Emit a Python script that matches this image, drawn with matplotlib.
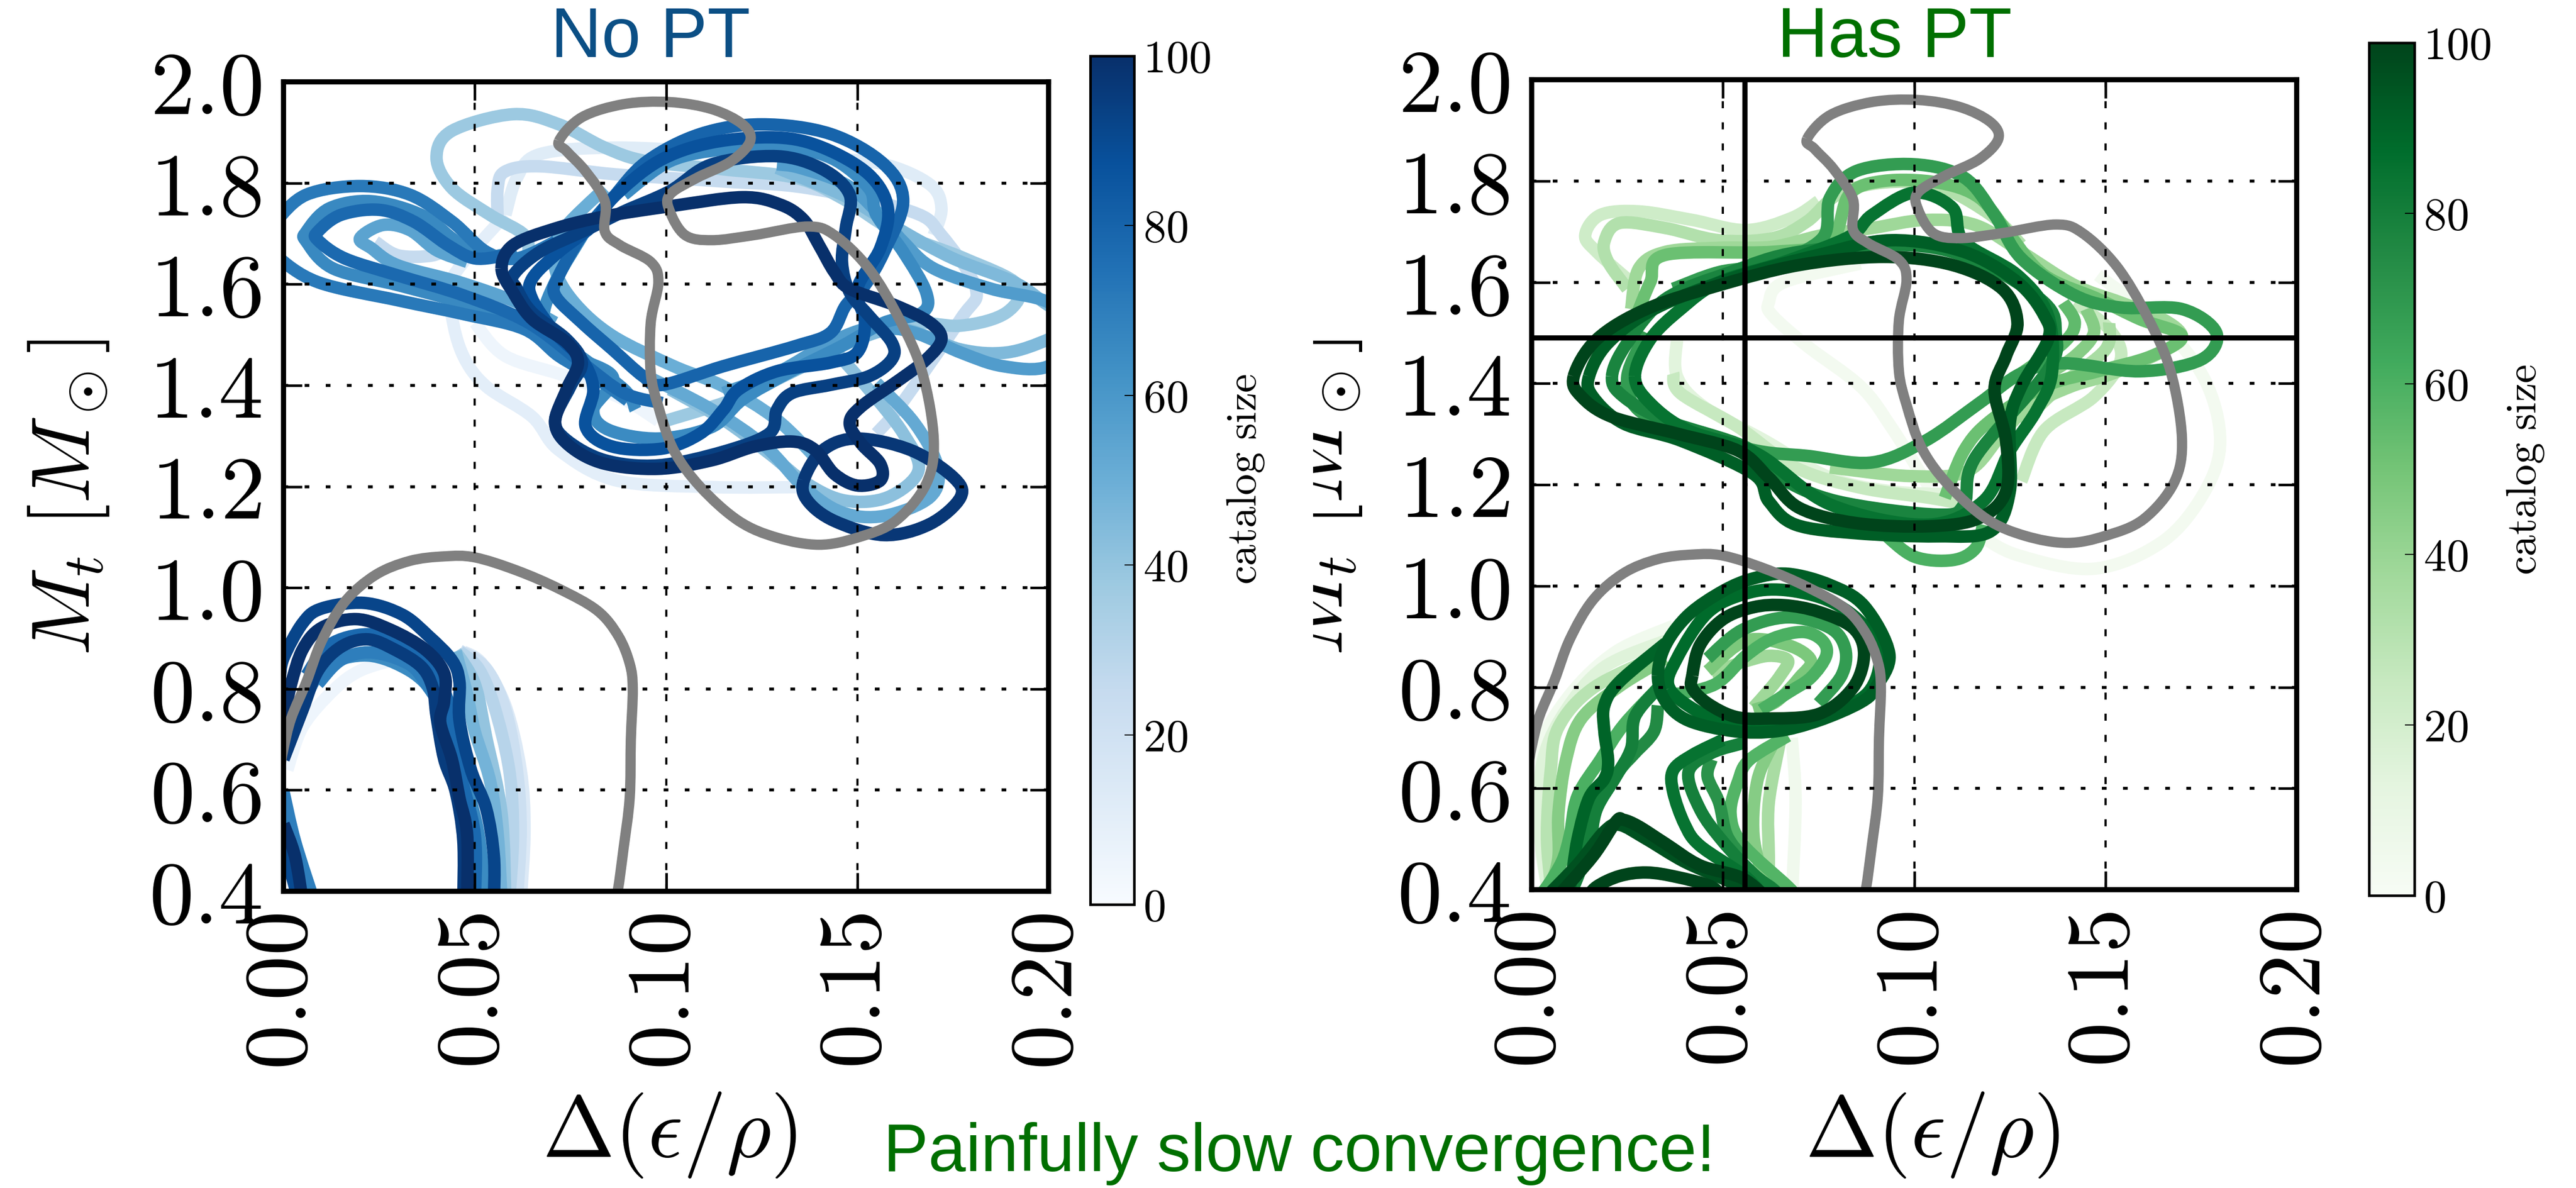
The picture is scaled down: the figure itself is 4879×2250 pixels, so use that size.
import matplotlib
matplotlib.use("Agg")
import matplotlib.pyplot as plt
import numpy as np
from matplotlib.cm import ScalarMappable
from matplotlib.colors import Normalize
from matplotlib.patches import PathPatch
from matplotlib.path import Path
from matplotlib.transforms import Bbox, TransformedBbox

plt.rcParams["mathtext.fontset"] = "cm"
plt.rcParams["font.family"] = ["Liberation Sans", "DejaVu Sans"]

x_ticks = [0.00, 0.05, 0.10, 0.15, 0.20]
x_tick_labels = ["$0.00$", "$0.05$", "$0.10$", "$0.15$", "$0.20$"]
y_ticks = [0.4, 0.6, 0.8, 1.0, 1.2, 1.4, 1.6, 1.8, 2.0]
y_tick_labels = ["$0.4$", "$0.6$", "$0.8$", "$1.0$", "$1.2$", "$1.4$", "$1.6$", "$1.8$", "$2.0$"]
cbar_ticks = [0, 20, 40, 60, 80, 100]
cbar_tick_labels = ["$0$", "$20$", "$40$", "$60$", "$80$", "$100$"]
pt_eos_x = 0.0557
pt_eos_y = 1.49

# grey reference contours, same in both panels
grey_top_x = [.072, .078, .089, .101, .112, .120, .122, .117, .108, .101, .101, .105, .112, .123, .137, .144, .153, .161, .167, .170, .168, .160, .150, .140, .129, .119, .109, .102, .098, .096, .096, .098, .096, .088, .084, .084, .079, .074]
grey_top_y = [1.883, 1.930, 1.956, 1.960, 1.946, 1.916, 1.883, 1.843, 1.810, 1.777, 1.744, 1.697, 1.687, 1.697, 1.714, 1.697, 1.631, 1.531, 1.425, 1.292, 1.205, 1.132, 1.099, 1.085, 1.099, 1.132, 1.199, 1.272, 1.358, 1.425, 1.524, 1.604, 1.644, 1.677, 1.704, 1.764, 1.823, 1.863]
grey_low_x = [-.001, .000, .002, .006, .010, .016, .024, .033, .042, .050, .061, .072, .082, .0875, .0905, .0913, .0908, .0905, .0889, .0874, .086]
grey_low_y = [.64, .682, .742, .814, .895, .972, 1.025, 1.053, 1.062, 1.060, 1.034, .998, .955, .905, .85, .80, .70, .585, .485, .402, .36]

# No PT, upper cluster
nt100_x = [.057, .060, .071, .084, .101, .120, .130, .136, .140, .144, .148, .160, .169, .172, .168, .161, .151, .148, .151, .156, .156, .150, .144, .139, .133, .123, .112, .098, .084, .075, .071, .074, .077, .074, .065, .060]
nt100_y = [1.631, 1.677, 1.710, 1.734, 1.754, 1.772, 1.757, 1.727, 1.677, 1.624, 1.591, 1.558, 1.524, 1.491, 1.451, 1.411, 1.358, 1.325, 1.285, 1.245, 1.212, 1.202, 1.225, 1.272, 1.289, 1.279, 1.252, 1.235, 1.245, 1.279, 1.325, 1.392, 1.445, 1.485, 1.531, 1.584]
nt94_x = [.101, .112, .129, .141, .148, .147, .146, .148, .153, .159, .159, .153, .143, .133, .129, .127, .115, .098, .084, .074, .071, .075, .078, .074, .065, .061, .060, .067, .079, .089]
nt94_y = [1.784, 1.837, 1.853, 1.827, 1.777, 1.711, 1.644, 1.584, 1.538, 1.485, 1.451, 1.418, 1.401, 1.385, 1.352, 1.305, 1.269, 1.242, 1.252, 1.292, 1.332, 1.398, 1.445, 1.491, 1.544, 1.591, 1.617, 1.664, 1.707, 1.744]
nt97_x = [.136, .141, .150, .164, .175, .177, .169, .157, .144, .137]
nt97_y = [1.212, 1.272, 1.295, 1.272, 1.219, 1.179, 1.126, 1.104, 1.132, 1.172]
nt80_x = [.072, .078, .086, .095, .109, .125, .143, .157, .162, .157, .152, .147, .143, .134, .115, .099, .094, .086, .078, .071]
nt80_y = [1.617, 1.697, 1.770, 1.843, 1.897, 1.916, 1.897, 1.837, 1.764, 1.664, 1.598, 1.558, 1.504, 1.478, 1.438, 1.401, 1.418, 1.471, 1.524, 1.578]
nt87_x = [.086, .098, .112, .129, .141, .153, .158, .156, .150, .152, .150, .143, .129, .119, .115, .109, .099, .086, .079, .081, .078, .071, .065, .065, .072, .081]
nt87_y = [1.770, 1.843, 1.880, 1.890, 1.870, 1.817, 1.750, 1.671, 1.591, 1.524, 1.465, 1.445, 1.428, 1.392, 1.352, 1.305, 1.275, 1.279, 1.318, 1.392, 1.451, 1.504, 1.571, 1.611, 1.664, 1.717]
nt65_x = [.089, .101, .115, .129, .143, .153, .155, .162, .168, .167, .157, .146, .132, .120, .112, .098, .085, .081, .086, .072, .068, .071, .079]
nt65_y = [1.777, 1.843, 1.867, 1.873, 1.850, 1.790, 1.737, 1.664, 1.584, 1.544, 1.524, 1.478, 1.425, 1.372, 1.318, 1.295, 1.312, 1.352, 1.418, 1.471, 1.531, 1.604, 1.707]
nt72_x = [.071, .061, .053, .044, .033, .020, .006, -.002, -.005, -.002, .009, .030, .047, .063, .072, .081, .090]
nt72_y = [1.684, 1.651, 1.664, 1.724, 1.777, 1.794, 1.777, 1.724, 1.690, 1.657, 1.604, 1.568, 1.541, 1.511, 1.458, 1.418, 1.370]
nt66_x = [.061, .051, .044, .036, .023, .012, .006, .006, .013, .030, .047, .063, .075, .089, .092]
nt66_y = [1.664, 1.654, 1.691, 1.737, 1.764, 1.750, 1.704, 1.684, 1.631, 1.598, 1.564, 1.531, 1.471, 1.392, 1.352]
nt78_x = [.058, .050, .043, .034, .025, .015, .009, .009, .016, .030, .047, .064, .078, .089, .099]
nt78_y = [1.657, 1.651, 1.677, 1.724, 1.747, 1.737, 1.704, 1.687, 1.651, 1.617, 1.578, 1.524, 1.445, 1.385, 1.365]
nt55_x = [.048, .040, .033, .026, .020, .023, .030, .046, .061, .071]
nt55_y = [1.644, 1.667, 1.707, 1.717, 1.691, 1.671, 1.637, 1.604, 1.564, 1.524]
nt25a_x = [.024, .030, .039, .044]
nt25a_y = [1.684, 1.657, 1.657, 1.677]
nt58_x = [.129, .135, .147, .155, .162, .170, .185, .200, .208, .200, .188, .177, .165, .154, .143, .129, .115]
nt58_y = [1.837, 1.830, 1.797, 1.744, 1.684, 1.631, 1.591, 1.564, 1.504, 1.438, 1.438, 1.465, 1.504, 1.514, 1.485, 1.425, 1.385]
nt45_x = [.129, .146, .155, .162, .175, .191, .200, .208, .200, .189, .177, .162, .150, .136, .122, .112]
nt45_y = [1.830, 1.777, 1.737, 1.704, 1.651, 1.604, 1.558, 1.524, 1.491, 1.465, 1.471, 1.511, 1.491, 1.438, 1.385, 1.338]
nt38_x = [.064, .063, .054, .044, .040, .044, .060, .072, .084, .095, .115, .134, .146, .160, .178, .192, .189, .177, .161, .143, .122, .100]
nt38_y = [1.657, 1.697, 1.737, 1.790, 1.850, 1.903, 1.936, 1.916, 1.870, 1.843, 1.827, 1.810, 1.770, 1.704, 1.651, 1.598, 1.544, 1.518, 1.524, 1.471, 1.385, 1.330]
nt52_x = [.095, .112, .126, .136, .146, .157, .169, .171, .165, .155]
nt52_y = [1.418, 1.352, 1.279, 1.199, 1.149, 1.142, 1.179, 1.239, 1.325, 1.405]
nt42_x = [.101, .115, .127, .137, .147, .158, .166, .162, .153, .143]
nt42_y = [1.392, 1.332, 1.265, 1.205, 1.172, 1.179, 1.232, 1.305, 1.392, 1.478]
nt50_x = [.084, .072, .071, .076, .086, .102, .115, .129, .140]
nt50_y = [1.790, 1.697, 1.631, 1.564, 1.498, 1.438, 1.398, 1.332, 1.250]
nt25_x = [.056, .056, .058, .067, .087, .115, .137, .164, .172, .181, .177, .161, .155]
nt25_y = [1.724, 1.790, 1.823, 1.833, 1.817, 1.803, 1.790, 1.744, 1.697, 1.591, 1.531, 1.358, 1.305]
nt12_x = [.058, .061, .067, .087, .115, .140, .157, .169, .172, .170]
nt12_y = [1.737, 1.810, 1.857, 1.870, 1.860, 1.850, 1.837, 1.797, 1.750, 1.697]
nt10_x = [.058, .044, .044, .047, .053, .065, .072, .087, .112, .136]
nt10_y = [1.737, 1.611, 1.538, 1.458, 1.398, 1.338, 1.272, 1.212, 1.199, 1.199]
nt5_x = [.050, .058, .074, .089, .098]
nt5_y = [1.524, 1.458, 1.418, 1.372, 1.330]

no_pt_loops = [(97, nt97_x, nt97_y), (100, nt100_x, nt100_y), (94, nt94_x, nt94_y), (87, nt87_x, nt87_y), (80, nt80_x, nt80_y)]
no_pt_open = [(5, nt5_x, nt5_y), (10, nt10_x, nt10_y), (12, nt12_x, nt12_y), (25, nt25_x, nt25_y), (25, nt25a_x, nt25a_y), (38, nt38_x, nt38_y), (42, nt42_x, nt42_y), (45, nt45_x, nt45_y), (50, nt50_x, nt50_y), (52, nt52_x, nt52_y), (55, nt55_x, nt55_y), (58, nt58_x, nt58_y), (65, nt65_x, nt65_y), (66, nt66_x, nt66_y), (72, nt72_x, nt72_y), (78, nt78_x, nt78_y)]

# No PT, lower cluster
nl100_x = [.000, .002, .005, .010, .019, .028, .037, .042, .042, .041, .044, .046, .048, .048]
nl100_y = [.742, .810, .878, .921, .938, .917, .878, .831, .776, .733, .661, .584, .512, .38]
nl92_x = [-.001, .000, .005, .010, .021, .031, .038, .044, .046, .046, .049, .053, .055, .055]
nl92_y = [.82, .861, .930, .959, .970, .947, .904, .857, .814, .738, .640, .563, .469, .38]
nl95_x = [.000, .005, .009, .015, .022, .029, .036, .039, .040, .042, .045, .047, .047]
nl95_y = [.661, .759, .836, .883, .898, .878, .844, .802, .746, .661, .597, .50, .38]
nl78_x = [.006, .012, .022, .031, .037, .041, .044, .046, .050, .050]
nl78_y = [.827, .887, .908, .887, .853, .814, .746, .640, .512, .38]
nl70_x = [.009, .015, .023, .033, .038, .041]
nl70_y = [.810, .857, .872, .848, .802, .767]
nl65_x = [.005, .011, .022, .033, .040, .044, .048, .051, .053]
nl65_y = [.772, .844, .866, .836, .785, .725, .605, .512, .38]
nl48_x = [.045, .048, .050, .054, .056, .057]
nl48_y = [.874, .789, .716, .618, .512, .38]
nl40_x = [.045, .050, .053, .057, .058]
nl40_y = [.874, .810, .704, .554, .38]
nl30_x = [.046, .051, .055, .059, .060, .059]
nl30_y = [.874, .840, .768, .640, .512, .38]
nl22_x = [.046, .053, .058, .061, .062, .061]
nl22_y = [.876, .840, .759, .640, .520, .38]
nl14_x = [.047, .052, .058, .062, .063, .062]
nl14_y = [.874, .849, .767, .640, .520, .38]
nl5_x = [.001, .005, .013, .020, .030]
nl5_y = [.640, .725, .797, .836, .860]
nc100_x = [.000, .003, .005]
nc100_y = [.533, .469, .38]
nc70_x = [.000, .003, .008]
nc70_y = [.597, .499, .38]
nc90_x = [.000, .004]
nc90_y = [.490, .38]

no_pt_low = [(5, nl5_x, nl5_y), (14, nl14_x, nl14_y), (22, nl22_x, nl22_y), (30, nl30_x, nl30_y), (40, nl40_x, nl40_y), (48, nl48_x, nl48_y), (65, nl65_x, nl65_y), (70, nl70_x, nl70_y), (70, nc70_x, nc70_y), (78, nl78_x, nl78_y), (90, nc90_x, nc90_y), (92, nl92_x, nl92_y), (95, nl95_x, nl95_y), (100, nl100_x, nl100_y), (100, nc100_x, nc100_y)]

# Has PT, upper cluster
ht100_x = [.011, .017, .030, .049, .070, .092, .110, .123, .127, .124, .121, .124, .124, .117, .104, .085, .070, .062, .054, .038, .021, .013]
ht100_y = [1.414, 1.487, 1.547, 1.594, 1.634, 1.650, 1.634, 1.587, 1.520, 1.454, 1.387, 1.287, 1.187, 1.134, 1.118, 1.124, 1.154, 1.214, 1.267, 1.301, 1.334, 1.374]
ht92_x = [.015, .020, .032, .052, .075, .094, .113, .127, .134, .135, .128, .125, .125, .120, .106, .085, .069, .062, .058, .039, .024, .016]
ht92_y = [1.414, 1.480, 1.547, 1.607, 1.654, 1.683, 1.660, 1.600, 1.534, 1.487, 1.394, 1.321, 1.187, 1.108, 1.098, 1.104, 1.121, 1.167, 1.221, 1.287, 1.321, 1.374]
ht85_x = [.027, .031, .039, .049, .066, .083, .089, .100, .110, .113, .127, .135, .136, .132, .125, .118, .103, .078, .059, .041, .031]
ht85_y = [1.414, 1.487, 1.547, 1.600, 1.640, 1.690, 1.733, 1.777, 1.747, 1.680, 1.614, 1.534, 1.420, 1.347, 1.267, 1.167, 1.121, 1.161, 1.261, 1.307, 1.361]
ht78_x = [.021, .025, .035, .052, .070, .099, .117, .134, .137, .135, .116, .113, .106, .080, .065, .056, .035, .024]
ht78_y = [1.414, 1.480, 1.567, 1.620, 1.660, 1.673, 1.640, 1.560, 1.500, 1.427, 1.254, 1.161, 1.141, 1.167, 1.214, 1.274, 1.327, 1.374]
ht68_x = [.037, .049, .063, .076, .078, .085, .100, .113, .121, .128, .142, .154, .170, .179, .175, .159, .139, .128, .117, .103, .089, .072, .059, .042, .028, .025, .030]
ht68_y = [1.587, 1.620, 1.637, 1.687, 1.767, 1.820, 1.833, 1.807, 1.733, 1.647, 1.574, 1.550, 1.547, 1.500, 1.447, 1.424, 1.440, 1.420, 1.361, 1.287, 1.244, 1.257, 1.267, 1.301, 1.347, 1.414, 1.500]
ht60_x = [.092, .100, .110, .116, .118]
ht60_y = [1.104, 1.058, 1.051, 1.074, 1.121]
ht52_x = [.027, .031, .035, .063, .078, .083, .092, .106, .117, .125, .134, .148, .159, .170, .162, .148, .134, .120, .113, .108]
ht52_y = [1.527, 1.600, 1.654, 1.660, 1.680, 1.773, 1.800, 1.797, 1.767, 1.693, 1.614, 1.567, 1.527, 1.494, 1.454, 1.424, 1.394, 1.327, 1.267, 1.174]
ht38_x = [.026, .028, .035, .049, .063, .076, .089, .103, .116, .128, .142, .154, .165, .170, .166, .152, .141, .130, .123, .114, .099, .078]
ht38_y = [1.547, 1.627, 1.660, 1.668, 1.670, 1.693, 1.707, 1.723, 1.713, 1.660, 1.594, 1.560, 1.527, 1.494, 1.467, 1.420, 1.394, 1.354, 1.301, 1.227, 1.217, 1.234]
ht32_x = [.025, .020, .019, .023, .035, .049, .063, .072, .080, .092, .106, .120, .128]
ht32_y = [1.587, 1.640, 1.680, 1.717, 1.707, 1.683, 1.687, 1.720, 1.773, 1.797, 1.790, 1.733, 1.674]
ht22_x = [.026, .017, .014, .018, .028, .042, .056, .068, .075]
ht22_y = [1.600, 1.660, 1.693, 1.733, 1.740, 1.723, 1.703, 1.727, 1.760]
ht25_x = [.037, .039, .054, .069, .086, .104, .114]
ht25_y = [1.420, 1.380, 1.314, 1.234, 1.194, 1.174, 1.160]
ht25b_x = [.128, .134, .147, .154, .151, .142]
ht25b_y = [1.207, 1.307, 1.374, 1.447, 1.507, 1.560]
ht14_x = [.038, .038, .045, .061, .078, .094, .110]
ht14_y = [1.487, 1.414, 1.354, 1.287, 1.214, 1.187, 1.181]
ht3a_x = [.086, .066, .062, .063, .072, .086, .094, .104]
ht3a_y = [1.637, 1.600, 1.560, 1.534, 1.474, 1.394, 1.314, 1.194]
ht3b_x = [.148, .165, .176, .180, .176, .165, .147, .127, .117]
ht3b_y = [1.614, 1.514, 1.407, 1.287, 1.187, 1.088, 1.034, 1.061, 1.101]
ht55_x = [.139, .142, .139, .128]
ht55_y = [1.560, 1.520, 1.480, 1.420]
ht45_x = [.145, .147, .142, .134]
ht45_y = [1.547, 1.500, 1.454, 1.414]
ht35_x = [.151, .150, .139, .128]
ht35_y = [1.520, 1.467, 1.400, 1.321]

has_pt_loops = [(78, ht78_x, ht78_y), (85, ht85_x, ht85_y), (92, ht92_x, ht92_y), (100, ht100_x, ht100_y)]
has_pt_open = [(3, ht3a_x, ht3a_y), (3, ht3b_x, ht3b_y), (14, ht14_x, ht14_y), (22, ht22_x, ht22_y), (25, ht25_x, ht25_y), (25, ht25b_x, ht25b_y), (32, ht32_x, ht32_y), (35, ht35_x, ht35_y), (38, ht38_x, ht38_y), (45, ht45_x, ht45_y), (52, ht52_x, ht52_y), (55, ht55_x, ht55_y), (60, ht60_x, ht60_y), (68, ht68_x, ht68_y)]

# Has PT, lower cluster
hl100_x = [.042, .044, .050, .058, .066, .075, .084, .0869, .084, .075, .061, .053, .046, .042]
hl100_y = [.823, .883, .934, .958, .962, .949, .917, .866, .799, .747, .738, .742, .768, .798]
hl92_x = [.033, .035, .041, .050, .058, .067, .078, .087, .0935, .090, .086, .075, .064, .053, .041, .035]
hl92_y = [.823, .883, .943, .990, 1.015, 1.024, 1.002, .960, .866, .80, .77, .734, .713, .713, .734, .772]
hl88_x = [.036, .038, .046, .056, .066, .078, .087, .091, .088, .078, .067, .055, .045]
hl88_y = [.798, .857, .947, .985, .992, .970, .921, .86, .79, .747, .721, .718, .745]
hf60_x = [.037, .048, .056, .063, .071, .076, .077, .073, .067, .060]
hf60_y = [.785, .806, .862, .896, .909, .892, .862, .819, .789, .755]
hf68_x = [.046, .055, .067, .078, .082, .081, .075]
hf68_y = [.857, .913, .938, .917, .875, .823, .768]
hf48_x = [.046, .056, .067, .073, .070, .064, .058]
hf48_y = [.832, .892, .883, .853, .819, .772, .755]
hf38_x = [.047, .055, .062, .067, .065, .062, .058]
hf38_y = [.828, .849, .862, .853, .823, .794, .760]
hb90_x = [.035, .023, .019, .019, .020, .019, .015, .012, .010, .008]
hb90_y = [.887, .811, .764, .713, .653, .619, .581, .500, .406, .38]
hb80_x = [.033, .027, .026, .022, .017, .015, .011, .009]
hb80_y = [.798, .742, .679, .623, .559, .487, .406, .38]
hb75_x = [.033, .032, .027, .023, .016, .013, .009, .007]
hb75_y = [.764, .713, .670, .636, .559, .487, .406, .38]
hb60_x = [.033, .024, .018, .012, .010, .008, .004, .001]
hb60_y = [.798, .725, .657, .585, .508, .457, .406, .38]
hb45_x = [.035, .023, .013, .009, .007, .007, .005, .004]
hb45_y = [.857, .802, .738, .657, .551, .465, .406, .38]
hb30_x = [.033, .016, .007, .005, .004, .005, .005]
hb30_y = [.862, .798, .721, .636, .508, .406, .38]
hb15_x = [.035, .019, .009, .003, .002, .004, .004]
hb15_y = [.892, .840, .755, .657, .529, .406, .38]
hb4_x = [.037, .022, .010, .002, .001, .004, .004]
hb4_y = [.921, .870, .785, .679, .551, .406, .38]
hd100_x = [.006, .016, .022, .024, .028, .035, .044, .055, .062]
hd100_y = [.38, .466, .534, .538, .525, .491, .448, .423, .38]
hd96_x = [.003, .012, .019, .023, .030, .040, .052, .060]
hd96_y = [.38, .450, .515, .528, .500, .455, .415, .38]
ha100_x = [.014, .017, .023, .030, .038, .047, .050]
ha100_y = [.38, .406, .427, .434, .425, .406, .38]
hm85_x = [.050, .042, .037, .037, .040, .044, .055, .059]
hm85_y = [.696, .666, .636, .593, .529, .487, .431, .402]
hm80_x = [.056, .047, .041, .044, .050, .058, .063, .066]
hm80_y = [.691, .670, .632, .559, .495, .431, .402, .38]
hm72_x = [.047, .046, .049, .051, .055]
hm72_y = [.657, .623, .572, .508, .465]
hm58_x = [.067, .057, .054, .052, .055, .067, .070]
hm58_y = [.704, .657, .615, .551, .491, .406, .38]
hm45_x = [.063, .059, .058, .061, .061]
hm45_y = [.687, .615, .508, .406, .38]
hm35_x = [.065, .062, .062, .062]
hm35_y = [.696, .572, .465, .38]
hm5_x = [.068, .069, .068]
hm5_y = [.700, .572, .38]

has_pt_low_loops = [(88, hl88_x, hl88_y), (92, hl92_x, hl92_y), (100, hl100_x, hl100_y)]
has_pt_low_open = [(4, hb4_x, hb4_y), (5, hm5_x, hm5_y), (15, hb15_x, hb15_y), (30, hb30_x, hb30_y), (35, hm35_x, hm35_y), (38, hf38_x, hf38_y), (45, hb45_x, hb45_y), (45, hm45_x, hm45_y), (48, hf48_x, hf48_y), (58, hm58_x, hm58_y), (60, hb60_x, hb60_y), (60, hf60_x, hf60_y), (68, hf68_x, hf68_y), (72, hm72_x, hm72_y), (75, hb75_x, hb75_y), (80, hb80_x, hb80_y), (80, hm80_x, hm80_y), (85, hm85_x, hm85_y), (90, hb90_x, hb90_y), (96, hd96_x, hd96_y), (100, hd100_x, hd100_y), (100, ha100_x, ha100_y)]

W, H = 4879, 2250
LW = 17


def box(x0, y0, x1, y1):
    # pixel box of the reference, y from the top
    return [x0 / W, 1 - y1 / H, (x1 - x0) / W, (y1 - y0) / H]


def smooth_patch(x, y, closed=False, **kw):
    # draws a smooth stroke through the read points
    pts = np.column_stack([x, y])
    if closed:
        p = np.vstack([pts[-1], pts, pts[0], pts[1]])
    else:
        p = np.vstack([pts[0], pts, pts[-1]])
    verts = [p[1]]
    codes = [Path.MOVETO]
    for i in range(1, len(p) - 2):
        verts += [p[i] + (p[i + 1] - p[i - 1]) / 6, p[i + 1] - (p[i + 2] - p[i]) / 6, p[i + 1]]
        codes += [Path.CURVE4] * 3
    return PathPatch(Path(verts, codes), fill=False, joinstyle="round", capstyle="butt", **kw)


def draw_panel(ax, cmap, loops, opens):
    curves = [(n, x, y, True) for n, x, y in loops] + [(n, x, y, False) for n, x, y in opens]
    for n, x, y, closed in sorted(curves, key=lambda c: c[0]):
        ax.add_patch(smooth_patch(x, y, closed, edgecolor=cmap(n / 100), lw=LW, zorder=2))
    ax.add_patch(smooth_patch(grey_top_x, grey_top_y, True, edgecolor="#808080", lw=14, zorder=2.2))
    ax.add_patch(smooth_patch(grey_low_x, grey_low_y, False, edgecolor="#808080", lw=14, zorder=2.2))

    ax.set_xlim(0, 0.2)
    ax.set_ylim(0.4, 2.0)
    ax.set_xticks(x_ticks)
    ax.set_xticklabels(x_tick_labels, rotation=90)
    ax.set_yticks(y_ticks)
    ax.set_yticklabels(y_tick_labels)
    ax.tick_params(direction="in", length=25, width=3.5, top=True, right=True, labelsize=122, pad=30)
    ax.xaxis.grid(True, color="k", lw=3, ls=(0, (3.2, 6.4)))
    ax.yaxis.grid(True, color="k", lw=4, ls=(0, (1.6, 5.6)))
    ax.set_axisbelow(False)
    for s in ax.spines.values():
        s.set_linewidth(7)


def draw_cbar(fig, rect, cmap, label_x, label_y):
    cax = fig.add_axes(rect)
    cb = fig.colorbar(ScalarMappable(Normalize(0, 100), cmap=cmap), cax=cax, ticks=cbar_ticks)
    cb.ax.set_yticklabels(cbar_tick_labels)
    cb.ax.tick_params(direction="in", length=13, width=1.5, labelsize=62, pad=12)
    cb.outline.set_linewidth(3.5)
    fig.text(label_x / W, 1 - label_y / H, r"$\mathrm{catalog\ size}$", rotation=90, fontsize=58, ha="center", va="center")


fig = plt.figure(figsize=(W / 100, H / 100), dpi=100, facecolor="white")

ax1 = fig.add_axes(box(537, 155, 1986, 1688))
draw_panel(ax1, plt.cm.Blues, no_pt_loops, no_pt_open + no_pt_low)
draw_cbar(fig, box(2065, 106, 2148, 1713), plt.cm.Blues, 2360, 907)

ax2 = fig.add_axes(box(2901, 151, 4350, 1685))
draw_panel(ax2, plt.cm.Greens, has_pt_loops + has_pt_low_loops, has_pt_open + has_pt_low_open)
ax2.axvline(pt_eos_x, color="k", lw=7, zorder=3)
ax2.axhline(pt_eos_y, color="k", lw=7, zorder=3)
draw_cbar(fig, box(4487, 81, 4573, 1696), plt.cm.Greens, 4783, 889)

ylabel = r"$M_t\ [M_\odot]$"
fig.text(130 / W, 1 - 942 / H, ylabel, rotation=90, fontsize=112, ha="center", va="center")
t = fig.text(2503 / W, 1 - 942 / H, ylabel, rotation=90, fontsize=112, ha="center", va="center")
t.set_clip_on(True)
t.set_clip_box(TransformedBbox(Bbox([[2487 / W, 0], [2700 / W, 1]]), fig.transFigure))

xlabel = r"$\Delta\left(\epsilon/\rho\right)$"
fig.text(1268 / W, 1 - 2150 / H, xlabel, fontsize=118, ha="center", va="center")
fig.text(3660 / W, 1 - 2150 / H, xlabel, fontsize=118, ha="center", va="center")

fig.text(1232 / W, 1 - 108 / H, "No PT", color="#0b4f85", fontsize=96, ha="center", va="baseline")
fig.text(3588 / W, 1 - 108 / H, "Has PT", color="#007000", fontsize=96, ha="center", va="baseline")
fig.text(2461 / W, 1 - 2218 / H, "Painfully slow convergence!", color="#006f00", fontsize=92, ha="center", va="baseline")

fig.savefig("out.png", dpi=100)
